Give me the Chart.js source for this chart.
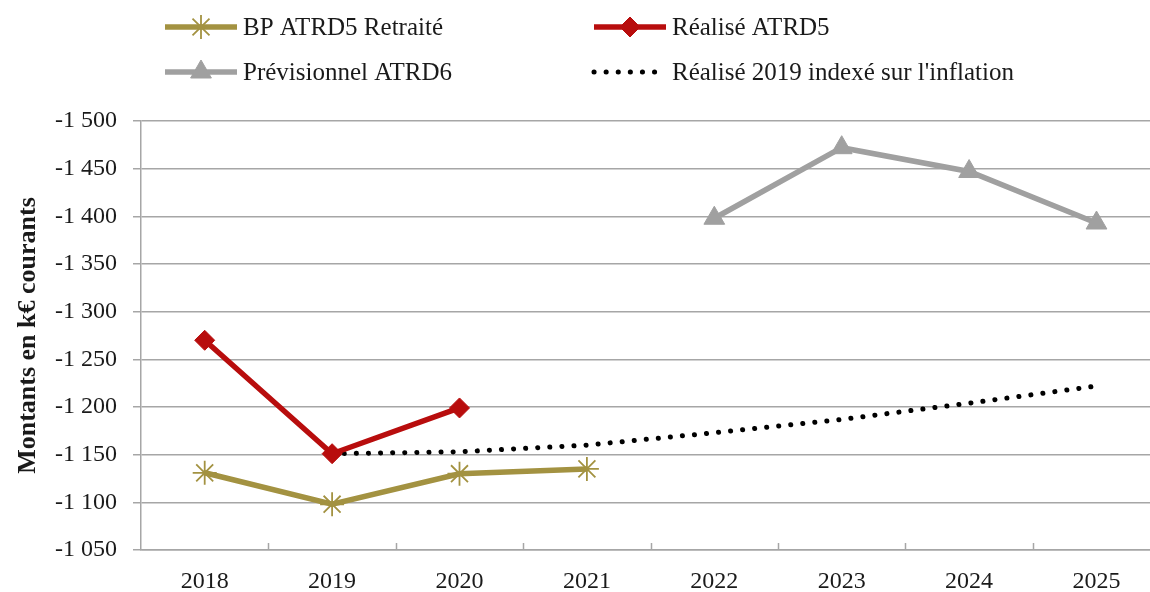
<!DOCTYPE html>
<html lang="fr">
<head>
<meta charset="utf-8">
<script src="https://cdn.jsdelivr.net/npm/chart.js@4/dist/chart.umd.min.js"></script>
<style>
  html, body { margin: 0; padding: 0; background: #fff; overflow: hidden; }
  #wrap { width: 1174px; height: 592px; }
</style>
</head>
<body>
<div id="wrap"><canvas id="chart" width="1174" height="592"></canvas></div>
<script>
// Data (k€ courants)
const years = ['2018', '2019', '2020', '2021', '2022', '2023', '2024', '2025'];
const bpAtrd5 = [-1131, -1098, -1130, -1135, null, null, null, null];
const realiseAtrd5 = [-1270, -1151, -1199, null, null, null, null, null];
const previsionnelAtrd6 = [null, null, null, null, -1398, -1472, -1447, -1393];
const realise2019Indexe = [null, -1151, -1153, -1160, -1173, -1187, -1204, -1222];
const yTicks = [-1500, -1450, -1400, -1350, -1300, -1250, -1200, -1150, -1100, -1050];

const FONT = '"Liberation Serif", "DejaVu Serif", serif';
const GRID = '#a6a6a6';

function fmt(v) {
  const s = Math.abs(v).toString().replace(/\B(?=(\d{3})+(?!\d))/g, ' ');
  return (v < 0 ? '-' : '') + s;
}

// Legend drawn on the canvas: two columns, two rows
const legendPlugin = {
  id: 'sketchLegend',
  afterDraw(chart) {
    const ctx = chart.ctx;
    const slots = [
      { x: 165, y: 27 }, { x: 594, y: 27 },
      { x: 165, y: 72 }, { x: 594, y: 72 }
    ];
    chart.data.datasets.forEach((ds, i) => {
      const s = slots[i];
      ctx.save();
      ctx.strokeStyle = ds.borderColor;
      ctx.lineWidth = ds.borderWidth;
      ctx.lineCap = ds.borderCapStyle || 'butt';
      ctx.setLineDash(ds.borderDash || []);
      ctx.beginPath();
      ctx.moveTo(s.x, s.y);
      ctx.lineTo(s.x + 72, s.y);
      ctx.stroke();
      ctx.setLineDash([]);
      if (ds.pointRadius > 0) {
        ctx.fillStyle = ds.pointBackgroundColor;
        ctx.strokeStyle = ds.pointBorderColor;
        ctx.lineWidth = ds.pointBorderWidth;
        Chart.helpers.drawPoint(ctx, { pointStyle: ds.pointStyle, radius: ds.pointRadius, rotation: 0, borderWidth: ds.pointBorderWidth }, s.x + 36, s.y);
      }
      ctx.fillStyle = '#1a1a1a';
      ctx.font = '25px ' + FONT;
      ctx.textBaseline = 'middle';
      ctx.fillText(ds.label, s.x + 78, s.y + 1);
      ctx.restore();
    });
  }
};

// Small tick marks pointing up from the x axis, between categories
const innerTicks = {
  id: 'innerTicks',
  afterDatasetsDraw(chart) {
    const x = chart.scales.x;
    const ctx = chart.ctx;
    const half = (x.getPixelForValue(1) - x.getPixelForValue(0)) / 2;
    ctx.save();
    ctx.strokeStyle = GRID;
    ctx.lineWidth = 1.5;
    for (let i = 0; i < years.length; i++) {
      const px = Math.round(x.getPixelForValue(i) + half) + 0.5;
      ctx.beginPath();
      ctx.moveTo(px, x.top);
      ctx.lineTo(px, x.top - 7);
      ctx.stroke();
    }
    ctx.restore();
  }
};

new Chart(document.getElementById('chart'), {
  type: 'line',
  data: {
    labels: years,
    datasets: [
      {
        label: 'BP ATRD5 Retraité',
        data: bpAtrd5,
        borderColor: '#a39241',
        backgroundColor: '#a39241',
        borderWidth: 5.5,
        pointStyle: 'star',
        pointRadius: 12,
        pointBorderWidth: 1.8,
        pointBorderColor: '#a39241',
        pointBackgroundColor: '#a39241'
      },
      {
        label: 'Réalisé ATRD5',
        data: realiseAtrd5,
        borderColor: '#b80d0d',
        backgroundColor: '#b80d0d',
        borderWidth: 5.5,
        pointStyle: 'rectRot',
        pointRadius: 10,
        pointBorderWidth: 1,
        pointBorderColor: '#b80d0d',
        pointBackgroundColor: '#b80d0d'
      },
      {
        label: 'Prévisionnel ATRD6',
        data: previsionnelAtrd6,
        borderColor: '#a0a0a0',
        backgroundColor: '#a0a0a0',
        borderWidth: 5.5,
        pointStyle: 'triangle',
        pointRadius: 12,
        pointBorderWidth: 1,
        pointBorderColor: '#a0a0a0',
        pointBackgroundColor: '#a0a0a0'
      },
      {
        label: "Réalisé 2019 indexé sur l'inflation",
        data: realise2019Indexe,
        borderColor: '#000000',
        backgroundColor: '#000000',
        borderWidth: 5,
        borderDash: [0.1, 12],
        borderCapStyle: 'round',
        pointRadius: 0,
        pointHoverRadius: 0
      }
    ]
  },
  options: {
    responsive: false,
    animation: false,
    spanGaps: false,
    layout: { padding: { top: 121, right: 4, left: 0, bottom: 0 } },
    plugins: {
      legend: { display: false },
      tooltip: { enabled: false }
    },
    scales: {
      x: {
        offset: true,
        grid: { display: false, drawTicks: false },
        border: { display: true, color: GRID, width: 1.5 },
        ticks: {
          padding: 17,
          color: '#1a1a1a',
          font: { family: FONT, size: 24 }
        },
        afterFit(scale) { scale.height = 42; }
      },
      y: {
        reverse: true,
        min: -1500,
        max: -1050,
        afterBuildTicks(scale) { scale.ticks = yTicks.map(v => ({ value: v })); },
        grid: { color: GRID, lineWidth: 1.5, tickLength: 8, drawTicks: true },
        border: { display: true, color: GRID, width: 1.5 },
        ticks: {
          padding: 16,
          color: '#1a1a1a',
          font: { family: FONT, size: 24 },
          callback: v => fmt(v)
        },
        title: {
          display: true,
          text: 'Montants en k€ courants',
          color: '#1a1a1a',
          font: { family: FONT, size: 26, weight: 'bold' },
          padding: { top: 13, bottom: 4 }
        },
        afterFit(scale) { scale.width = 141; }
      }
    }
  },
  plugins: [legendPlugin, innerTicks]
});
</script>
</body>
</html>
